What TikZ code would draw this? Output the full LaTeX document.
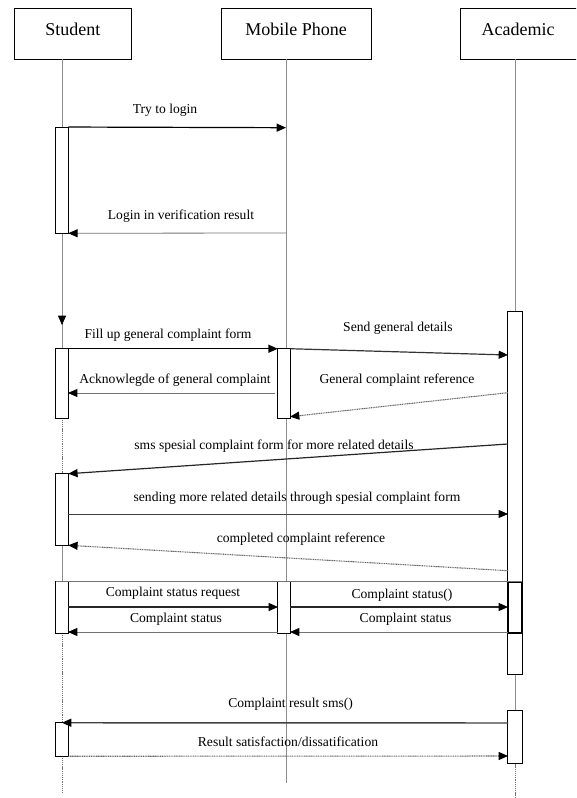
\documentclass[tikz,border=0pt]{standalone}
\usepackage{fontspec}
\setmainfont{Liberation Serif}
\usetikzlibrary{arrows.meta,fit,calc}
\tikzset{
  hdr/.style={draw, line width=0.6pt, inner sep=0pt, fill=white},
  htext/.style={font=\fontsize{13.5}{15}\selectfont, inner sep=0pt},
  lbl/.style={font=\fontsize{10.2}{12}\selectfont, inner sep=0pt},
  actbar/.style={draw, fill=white, line width=0.75pt, inner sep=0pt},
  life/.style={draw=black!45, line width=0.5pt},
  lifedot/.style={draw=black!55, line width=0.6pt, dash pattern=on 0.8pt off 0.6pt},
  tipA/.style={-{Triangle[length=7pt,width=6pt,color=black,fill=black]}},
  callmsg/.style={tipA, line width=0.9pt, draw=black},
  grymsg/.style={tipA, line width=0.6pt, draw=black!55},
  dotmsg/.style={tipA, line width=0.8pt, draw=black!60, dash pattern=on 0.8pt off 0.5pt}
}
\begin{document}
\begin{tikzpicture}[x=0.75pt,y=-0.75pt]
\path[use as bounding box] (0,0) rectangle (576,798);
\clip (0,0) rectangle (576,798);

% lifeline coordinates
\coordinate (stuTop) at (62,59);
\coordinate (mobTop) at (286,59);
\coordinate (acaTop) at (515,59);
\coordinate (mobEnd) at (286,783);
\coordinate (stuEnd) at (62,792);
\coordinate (acaEnd) at (515,798);
\coordinate (stuArr) at (62,325);

% headers
\node[hdr, fit={(14.7,8.3) (131,59)}] (stu) {};
\node[hdr, fit={(221.5,8.3) (371,59)}] (mob) {};
\node[hdr, fit={(460,8.3) (578,59)}] (aca) {};
\node[htext] (stuT) at (72.9,29) {Student};
\node[htext] (mobT) at (296,29) {Mobile Phone};
\node[htext] (acaT) at (518,29) {Academic};

% activation bars (geometry only, drawn later)
\path
  node[inner sep=0pt, fit={(56,127.3) (68,233)}] (sb1) {}
  node[inner sep=0pt, fit={(56,349) (68,418)}] (sb2) {}
  node[inner sep=0pt, fit={(56,474) (68,545)}] (sb3) {}
  node[inner sep=0pt, fit={(56,582) (68,633)}] (sb4) {}
  node[inner sep=0pt, fit={(56,723) (68,756)}] (sb5) {}
  node[inner sep=0pt, fit={(278,349) (290,418)}] (mb1) {}
  node[inner sep=0pt, fit={(278,582) (290,633)}] (mb2) {}
  node[inner sep=0pt, fit={(508,311.7) (522,674)}] (ab1) {}
  node[inner sep=0pt, fit={(508,582) (522,633)}] (ab1n) {}
  node[inner sep=0pt, fit={(508,710.7) (522,763.3)}] (ab2) {};

% lifelines
\draw[life] (mobTop) -- (mobEnd);
\draw[life] (stuTop) -- (sb1.north -| stuTop);
\draw[life] (sb1.south -| stuTop) -- (sb2.north -| stuTop);
\draw[tipA, life] (sb1.south -| stuTop) -- (stuArr);
\draw[lifedot] (sb2.south -| stuTop) -- (sb3.north -| stuTop);
\draw[life] (sb3.south -| stuTop) -- (sb4.north -| stuTop);
\draw[lifedot] (sb4.south -| stuTop) -- (sb5.north -| stuTop);
\draw[lifedot] (sb5.south -| stuTop) -- (stuEnd);
\draw[life] (acaTop) -- (ab1.north -| acaTop);
\draw[life] (ab1.south -| acaTop) -- (ab2.north -| acaTop);
\draw[lifedot] (ab2.south -| acaTop) -- (acaEnd);

% draw bars
\foreach \b in {sb1,sb2,sb3,sb4,sb5,mb1,mb2,ab1,ab2}{
  \draw[actbar] (\b.north west) rectangle (\b.south east);
}
\draw[line width=1.2pt] (ab1n.north west) rectangle (ab1n.south east);

% message endpoints
\coordinate (m1e) at (286,127.7);
\coordinate (m2s) at (286,233);
\coordinate (m5e) at (508,355);
\coordinate (m6s) at (275,393);
\coordinate (m6e) at (68,393);
\coordinate (m7s) at (508,392.7);
\coordinate (m7e) at (290,416.7);
\coordinate (m8s) at (508,444);
\coordinate (m9s) at (68,514);
\coordinate (m9e) at (508,514);
\coordinate (m10s) at (508,570.7);
\coordinate (m12s) at (68,607);
\coordinate (m12e) at (278,607);
\coordinate (m13s) at (278,632);
\coordinate (m13e) at (68,632);
\coordinate (m14s) at (290,607);
\coordinate (m14e) at (508,607);
\coordinate (m15s) at (508,632);
\coordinate (m15e) at (290,632);
\coordinate (m16s) at (508,723);
\coordinate (m17e) at (508,756);

% messages
\draw[callmsg] (sb1.north east) -- (m1e);
\draw[grymsg] (m2s) -- (sb1.south east);
\draw[callmsg] (sb2.north east) -- (mb1.north west);
\draw[callmsg, draw=black!80] (mb1.north east) -- (m5e);
\draw[grymsg] (m6s) -- (m6e);
\draw[dotmsg] (m7s) -- (m7e);
\draw[callmsg, draw=black!85] (m8s) -- (sb3.north east);
\draw[grymsg, draw=black!75] (m9s) -- (m9e);
\draw[dotmsg] (m10s) -- (sb3.south east);
\draw[line width=0.6pt, draw=black!55] (sb4.north west) -- (ab1n.north east);
\draw[callmsg, draw=black!85] (m12s) -- (m12e);
\draw[grymsg] (m13s) -- (m13e);
\draw[callmsg, draw=black!85] (m14s) -- (m14e);
\draw[grymsg] (m15s) -- (m15e);
\draw[callmsg, draw=black!75, line width=1.1pt] (m16s) -- (sb5.north);
\draw[dotmsg] (sb5.south east) -- (m17e);

% labels
\node[lbl] (l1) at (165,110) {Try to login};
\node[lbl] (l2) at (181,215.7) {Login in verification result};
\node[lbl] (l4) at (168,335) {Fill up general complaint form};
\node[lbl] (l5) at (398,328) {Send general details};
\node[lbl] (l6) at (175,380) {Acknowlegde of general complaint};
\node[lbl] (l7) at (397,380) {General complaint reference};
\node[lbl] (l8) at (274,446) {sms spesial complaint form for more related details};
\node[lbl] (l9) at (297,497.7) {sending more related details through spesial complaint form};
\node[lbl] (l10) at (301,539) {completed complaint reference};
\node[lbl] (l12) at (173,593) {Complaint status request};
\node[lbl] (l13) at (176,619) {Complaint status};
\node[lbl] (l14) at (402,595) {Complaint status()};
\node[lbl] (l15) at (405.6,619) {Complaint status};
\node[lbl] (l16) at (290.6,704) {Complaint result sms()};
\node[lbl] (l17) at (288,741.7) {Result satisfaction/dissatification};
\end{tikzpicture}
\end{document}
